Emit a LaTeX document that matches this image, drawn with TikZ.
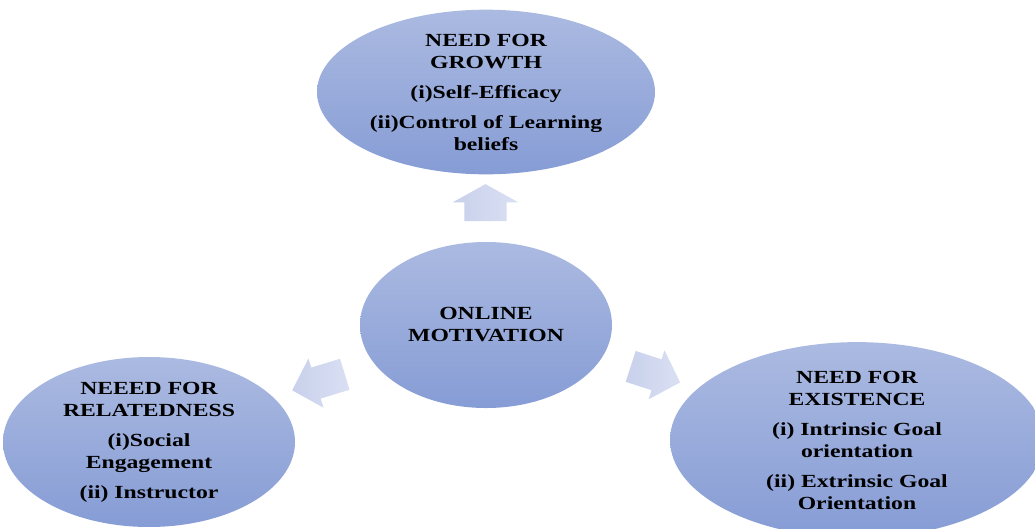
\documentclass[tikz,border=0pt]{standalone}
\usepackage{fontspec}
\usetikzlibrary{shapes.geometric,shapes.arrows}
\newfontfamily\diagfont{Liberation Serif}[FakeStretch=1.28]
\definecolor{ovaltop}{RGB}{171,186,225}
\definecolor{ovalbottom}{RGB}{134,156,213}
\definecolor{arrowdark}{RGB}{200,208,235}
\definecolor{arrowlight}{RGB}{218,224,243}
\tikzset{
  oval/.style={ellipse, inner sep=0pt, top color=ovaltop, bottom color=ovalbottom,
    draw=none, align=center,
    font=\diagfont\bfseries\fontsize{18.5}{22}\selectfont},
  blockarrow/.style={single arrow, inner xsep=0pt, minimum width=0pt,
    left color=arrowdark, right color=arrowlight, draw=none},
}
\newcommand{\parskipline}{\\[8pt]}
\begin{document}
\begin{tikzpicture}[x=1pt,y=-1pt]
\useasboundingbox (0,0) rectangle (1035,528);
% four need ovals
\node[oval, minimum width=338pt, minimum height=164pt] (growth) at (486,92)
  {NEED FOR\\GROWTH\parskipline(i)Self-Efficacy\parskipline(ii)Control of Learning\\beliefs};
\node[oval, minimum width=252pt, minimum height=166pt] (online) at (486,325)
  {ONLINE\\MOTIVATION};
\node[oval, minimum width=292pt, minimum height=168pt] (related) at (149,442)
  {NEEED FOR\\RELATEDNESS\parskipline(i)Social\\Engagement\parskipline(ii) Instructor};
\node[oval, minimum width=374pt, minimum height=176pt] (exist) at (857,440)
  {NEED FOR\\EXISTENCE\parskipline(i) Intrinsic Goal\\orientation\parskipline(ii) Extrinsic Goal\\Orientation};
% block arrows leading out of the centre
\node[blockarrow, rotate=90, inner ysep=21pt, single arrow head extend=11.5pt,
  single arrow tip angle=122, minimum height=37pt] (toGrowth) at (485.5,208.5) {};
\node[blockarrow, rotate=197, inner ysep=16pt, single arrow head extend=9.5pt,
  single arrow tip angle=92, minimum height=55pt] (toRelated) at (326,380) {};
\node[blockarrow, rotate=-18, inner ysep=16pt, single arrow head extend=9.5pt,
  single arrow tip angle=92, minimum height=52pt] (toExist) at (648,372) {};
\end{tikzpicture}
\end{document}
